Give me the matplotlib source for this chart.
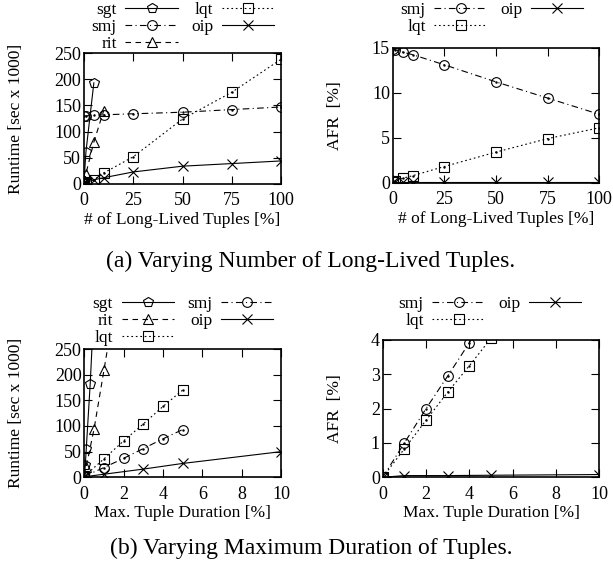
import numpy as np
from matplotlib import pyplot as plt

plt.rcParams['font.family'] = ['Liberation Serif', 'DejaVu Serif']

# (a) varying number of long-lived tuples
a_x = [0, 1, 5, 10, 25, 50, 75, 100]
a_sgt_x = [0, 1, 5]
a_sgt = [5, 62, 193]
a_rit_x = [0, 1, 5, 10]
a_rit = [5, 20, 80, 140]
a_smj = [129, 130, 131, 132, 134, 137, 142, 147]
a_lqt = [1, 3, 8, 21, 52, 124, 175, 238]
a_oip = [1, 3, 8, 12, 23, 34, 39, 44]

a_afr_smj = [14.9, 14.8, 14.5, 14.2, 13.1, 11.2, 9.4, 7.6]
a_afr_lqt = [0.1, 0.2, 0.5, 0.8, 1.8, 3.4, 4.9, 6.1]
a_afr_oip = [0.1, 0.1, 0.1, 0.1, 0.1, 0.1, 0.1, 0.1]

# (b) varying maximum duration of tuples
b_sgt_x = [0, 0.05, 0.1, 0.3, 0.5]
b_sgt = [2, 24, 56, 182, 340]
b_rit_x = [0, 0.1, 0.5, 1, 2]
b_rit = [3, 21, 95, 209, 440]
b_x = [0, 1, 2, 3, 4, 5]
b_smj = [2, 19, 37, 56, 75, 93]
b_lqt = [2, 36, 71, 104, 138, 170]
b_oip_x = [0, 1, 3, 5, 10]
b_oip = [1, 6, 16, 27, 50]

b_afr_smj = [0, 1.0, 2.0, 2.95, 3.92, 4.9]
b_afr_lqt = [0, 0.83, 1.66, 2.48, 3.25, 4.05]
b_afr_oip = [0, 0.05, 0.05, 0.06, 0.08]

STY = {
    'sgt': dict(ls='-', marker='p'),
    'smj': dict(ls=(0, (6, 3, 1, 3)), marker='o'),
    'rit': dict(ls=(0, (5, 4)), marker='^'),
    'lqt': dict(ls=(0, (1.5, 2.5)), marker='s'),
    'oip': dict(ls='-', marker='x'),
}
W, H = 613, 563


def draw(ax, name, x, y):
    s = STY[name]
    ax.plot(x, y, color='black', lw=0.8, ls=s['ls'], marker=s['marker'],
            ms=7, mfc='none', mec='black', mew=0.8, label=name)
    if s['marker'] in ('o', 's'):
        ax.plot(x, y, ls='none', marker='.', ms=1.5, color='black')


def style(ax, xlim, ylim, xt, yt, xlabel, ylabel, ylab_x):
    ax.set_xlim(*xlim)
    ax.set_ylim(*ylim)
    ax.set_xticks(xt)
    ax.set_yticks(yt)
    ax.tick_params(direction='in', length=6, width=0.8, top=True, right=True,
                   labelsize=13)
    ax.tick_params(axis='x', pad=6)
    ax.tick_params(axis='y', pad=2)
    for sp in ax.spines.values():
        sp.set_linewidth(1.2)
    hpx = ax.get_position().height * H
    wpx = ax.get_position().width * W
    ax.set_xlabel(xlabel, fontsize=12.5)
    ax.xaxis.set_label_coords(0.5, -28 / hpx)
    ax.set_ylabel(ylabel, fontsize=12.5, va='center')
    ax.yaxis.set_label_coords((ylab_x - ax.get_position().x0 * W) / wpx, 0.5)


def legend(ax, order, cx, ytop):
    h, l = ax.get_legend_handles_labels()
    d = dict(zip(l, h))
    ax.legend([d[k] for k in order], order, ncol=2, loc='upper center',
              bbox_to_anchor=(cx / W, 1 - ytop / H),
              bbox_transform=ax.figure.transFigure,
              frameon=False, markerfirst=False,
              fontsize=12.5, handlelength=3.0, handletextpad=0.5,
              columnspacing=0.8, labelspacing=0.05, borderpad=0,
              borderaxespad=0)


fig = plt.figure(figsize=(W / 100, H / 100), dpi=100)

ax1 = fig.add_axes([84 / W, 1 - 184 / H, 197 / W, 131 / H])
draw(ax1, 'sgt', a_sgt_x, a_sgt)
draw(ax1, 'smj', a_x, a_smj)
draw(ax1, 'rit', a_rit_x, a_rit)
draw(ax1, 'lqt', a_x, a_lqt)
draw(ax1, 'oip', a_x, a_oip)
style(ax1, (0, 100), (0, 250), [0, 25, 50, 75, 100], range(0, 251, 50),
      '# of Long-Lived Tuples [%]', 'Runtime [sec x 1000]', 16)
legend(ax1, ['sgt', 'smj', 'rit', 'lqt', 'oip'], 183, 2)

ax2 = fig.add_axes([392.7 / W, 1 - 182.7 / H, 206.6 / W, 135 / H])
draw(ax2, 'smj', a_x, a_afr_smj)
draw(ax2, 'lqt', a_x, a_afr_lqt)
draw(ax2, 'oip', a_x, a_afr_oip)
style(ax2, (0, 100), (0, 15), [0, 25, 50, 75, 100], [0, 5, 10, 15],
      '# of Long-Lived Tuples [%]', 'AFR  [%]', 335)
legend(ax2, ['smj', 'lqt', 'oip'], 492, 2)

ax3 = fig.add_axes([84.3 / W, 1 - 477.3 / H, 196.7 / W, 128.3 / H])
draw(ax3, 'sgt', b_sgt_x, b_sgt)
draw(ax3, 'rit', b_rit_x, b_rit)
draw(ax3, 'lqt', b_x, b_lqt)
draw(ax3, 'smj', b_x, b_smj)
draw(ax3, 'oip', b_oip_x, b_oip)
style(ax3, (0, 10), (0, 250), range(0, 11, 2), range(0, 251, 50),
      'Max. Tuple Duration [%]', 'Runtime [sec x 1000]', 16)
legend(ax3, ['sgt', 'rit', 'lqt', 'smj', 'oip'], 183, 296)

ax4 = fig.add_axes([382.7 / W, 1 - 477.3 / H, 216.6 / W, 137.3 / H])
draw(ax4, 'smj', b_x, b_afr_smj)
draw(ax4, 'lqt', b_x, b_afr_lqt)
draw(ax4, 'oip', b_oip_x, b_afr_oip)
style(ax4, (0, 10), (0, 4), range(0, 11, 2), range(0, 5),
      'Max. Tuple Duration [%]', 'AFR  [%]', 335)
legend(ax4, ['smj', 'lqt', 'oip'], 490, 296)

fig.text(311 / W, 1 - 261 / H, '(a) Varying Number of Long-Lived Tuples.',
         ha='center', va='center', fontsize=17)
fig.text(311 / W, 1 - 548 / H, '(b) Varying Maximum Duration of Tuples.',
         ha='center', va='center', fontsize=17)

fig.savefig('out.png', dpi=100)
